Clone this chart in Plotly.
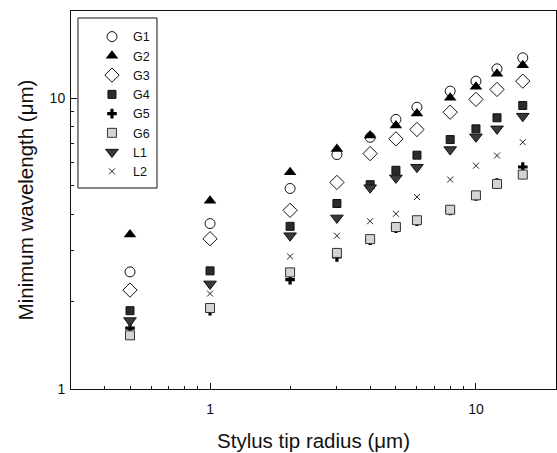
import plotly.graph_objects as go

radius = [0.5, 1, 2, 3, 4, 5, 6, 8, 10, 12, 15]
G1 = [2.53, 3.71, 4.90, 6.41, 7.35, 8.47, 9.33, 10.6, 11.47, 12.65, 13.8]
G2 = [3.40, 4.45, 5.57, 6.70, 7.45, 8.07, 8.87, 10.05, 10.97, 12.17, 13.0]
G3 = [2.19, 3.29, 4.12, 5.14, 6.46, 7.26, 7.82, 8.97, 9.93, 10.74, 11.47]
G4 = [1.86, 2.55, 3.63, 4.35, 5.05, 5.66, 6.38, 7.22, 7.86, 8.58, 9.46]
G5 = [1.62, 1.86, 2.38, 2.85, 3.25, 3.58, 3.78, 4.12, 4.62, 5.12, 5.81]
G6 = [1.53, 1.90, 2.52, 2.94, 3.28, 3.61, 3.81, 4.14, 4.64, 5.08, 5.47]
L1 = [1.72, 2.30, 3.37, 3.88, 4.93, 5.33, 5.80, 6.67, 7.38, 7.86, 8.69]
L2 = [1.65, 2.13, 2.86, 3.37, 3.78, 4.01, 4.58, 5.26, 5.87, 6.36, 7.07]

series = [
    ("G1", G1, dict(symbol="circle-open", size=10, color="#111", line=dict(width=1, color="#111"))),
    ("G2", G2, dict(symbol="triangle-up", size=11, color="#000", line=dict(width=0))),
    ("G3", G3, dict(symbol="diamond-open", size=11, color="#111", line=dict(width=1, color="#111"))),
    ("G4", G4, dict(symbol="square", size=8, color="#2b2b2b", line=dict(width=1, color="#111"))),
    ("G5", G5, dict(symbol="cross", size=8, color="#000", line=dict(width=0))),
    ("G6", G6, dict(symbol="square", size=9, color="#d4d4d4", line=dict(width=1, color="#333"))),
    ("L1", L1, dict(symbol="triangle-down", size=11, color="#3a3a3a", line=dict(width=1, color="#111"))),
    ("L2", L2, dict(symbol="x-thin", size=6, color="#222", line=dict(width=1, color="#222"))),
]

fig = go.Figure()
for name, ys, mk in series:
    fig.add_trace(go.Scatter(x=radius, y=ys, mode="markers", name=name, marker=mk))

font = "Liberation Sans, Arial, sans-serif"
axis_common = dict(
    type="log", showgrid=False, zeroline=False,
    showline=True, linecolor="#111", linewidth=1, mirror=True,
    ticks="inside", ticklen=6, tickcolor="#111",
    tickfont=dict(family=font, size=14, color="#111"),
)
fig.update_xaxes(
    **axis_common, range=[-0.5229, 1.30103],
    tickmode="array", tickvals=[1, 10], ticktext=["1", "10"],
    ticklabelstandoff=7,
    minor=dict(ticks="inside", ticklen=3, tickcolor="#111",
               tickmode="array",
               tickvals=[0.4, 0.5, 0.6, 0.7, 0.8, 0.9, 2, 3, 4, 5, 6, 7, 8, 9]),
    title=dict(text="Stylus tip radius (μm)", font=dict(family=font, size=20.5, color="#111"), standoff=17),
)
fig.update_yaxes(
    **axis_common, range=[0, 1.30103],
    tickmode="array", tickvals=[1, 10], ticktext=["1", "10"],
    ticklabelstandoff=2,
    minor=dict(ticks="inside", ticklen=3, tickcolor="#111",
               tickmode="array",
               tickvals=[2, 3, 4, 5, 6, 7, 8, 9]),
    title=dict(text="Minimum wavelength (μm)", font=dict(family=font, size=20.5, color="#111"), standoff=10),
)
# legend frame drawn as a layout shape so the entries can sit inside it like the original
fig.add_shape(type="rect", xref="paper", yref="paper",
              x0=0.0144, x1=0.1773, y0=0.5317, y1=0.9815,
              line=dict(color="#111", width=1), fillcolor="white", layer="above")
fig.update_layout(
    width=557, height=453,
    margin=dict(l=71, r=1, t=11, b=64),
    paper_bgcolor="white", plot_bgcolor="white",
    font=dict(family=font, color="#111"),
    legend=dict(x=0.0412, y=0.971, xanchor="left", yanchor="top",
                borderwidth=0, bgcolor="rgba(0,0,0,0)",
                itemwidth=32,
                font=dict(family=font, size=12.5, color="#111")),
)
fig.write_html("out.html")
